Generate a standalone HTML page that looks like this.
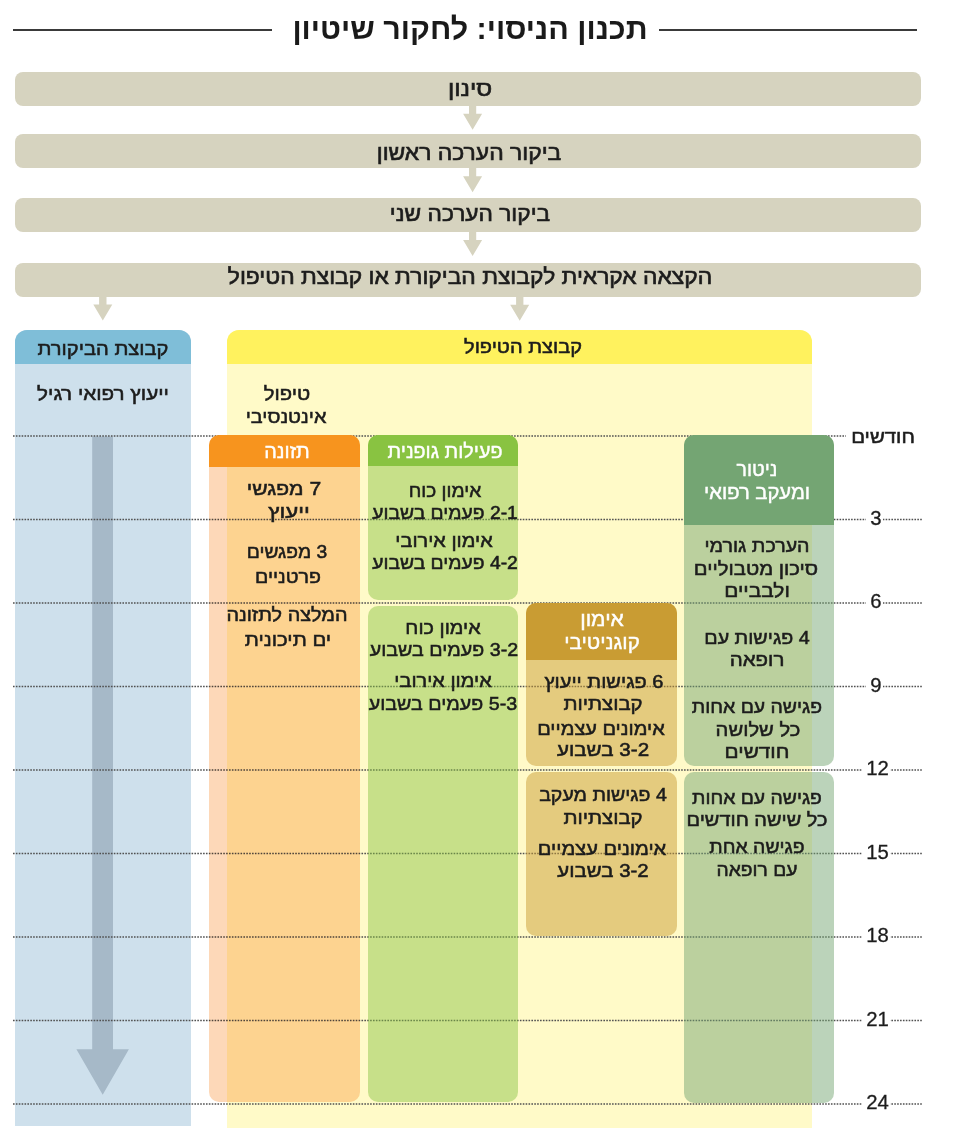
<!DOCTYPE html>
<html lang="he"><head><meta charset="utf-8"><title>תכנון הניסוי: לחקור שיטיון</title>
<style>
html,body{margin:0;padding:0;background:#fff;}
body{width:960px;height:1147px;position:relative;overflow:hidden;font-family:'Liberation Sans', 'DejaVu Sans', sans-serif;}
.ln{position:absolute;height:2px;background:#3a3a3a;}
.bar{position:absolute;left:15px;width:906px;height:34px;border-radius:8px;background:#d6d3bf;}
.col{position:absolute;border-radius:12px 12px 0 0;overflow:hidden;}
.colh{height:33.6px;}
.box{position:absolute;overflow:hidden;}
.ov{position:absolute;left:0;top:0;}
.t{position:absolute;white-space:nowrap;transform:translateX(-50%);direction:rtl;text-align:center;}
.mo{position:absolute;background:#fff;padding:0 1.5px 0 4px;font-size:20.3px;line-height:21px;height:21px;color:#1c1c1c;direction:ltr;-webkit-text-stroke:0.3px #1c1c1c;}
</style></head><body>
<div class="col" style="left:15px;top:330px;width:176px;height:796px;background:#cee0ec"><div class="colh" style="background:#7fbed8"></div></div><div class="col" style="left:227px;top:330px;width:584.8px;height:798px;background:#fffac8"><div class="colh" style="background:#fff25e"></div></div>
<svg class="ov" width="960" height="1147" viewBox="0 0 960 1147"><polygon points="92.2,436.5 113,436.5 113,1049.2 128.9,1049.2 102.7,1094.7 76.4,1049.2 92.2,1049.2" fill="#a6b9c8"/></svg>
<svg class="ov" width="960" height="1147" viewBox="0 0 960 1147"><g stroke="#505050" stroke-width="1.3" stroke-dasharray="1.6 1.28" fill="none"><line x1="13" y1="436" x2="846" y2="436" /><line x1="13" y1="519.5" x2="922" y2="519.5" /><line x1="13" y1="603" x2="922" y2="603" /><line x1="13" y1="686.5" x2="922" y2="686.5" /><line x1="13" y1="770" x2="922" y2="770" /><line x1="13" y1="853.5" x2="922" y2="853.5" /><line x1="13" y1="937" x2="922" y2="937" /><line x1="13" y1="1020.5" x2="922" y2="1020.5" /><line x1="13" y1="1104" x2="922" y2="1104" /></g></svg>
<div class="box" style="left:209.3px;top:434.7px;width:151.0px;height:667.3px;border-radius:10px;background:rgb(253,216,184);mix-blend-mode:multiply"></div><div class="box" style="left:209.3px;top:434.7px;width:151.0px;height:31.9px;border-radius:10px 10px 0 0;background:#f7941e"></div><div class="box" style="left:367.6px;top:434.7px;width:150.2px;height:165.3px;border-radius:10px;background:rgba(137,195,65,0.47)"></div><div class="box" style="left:367.6px;top:434.7px;width:150.2px;height:31.3px;border-radius:10px 10px 0 0;background:#89c341"></div><div class="box" style="left:367.6px;top:605.7px;width:150.2px;height:496.3px;border-radius:10px;background:rgba(137,195,65,0.47)"></div><div class="box" style="left:526.0px;top:602.6px;width:150.6px;height:163.6px;border-radius:10px;background:rgba(201,156,51,0.5)"></div><div class="box" style="left:526.0px;top:602.6px;width:150.6px;height:57.1px;border-radius:10px 10px 0 0;background:#c99c33"></div><div class="box" style="left:526.0px;top:772.2px;width:150.6px;height:163.4px;border-radius:10px;background:rgba(201,156,51,0.5)"></div><div class="box" style="left:684.0px;top:434.7px;width:150.0px;height:331.5px;border-radius:10px;background:rgba(116,165,115,0.49)"></div><div class="box" style="left:684.0px;top:434.7px;width:150.0px;height:90.6px;border-radius:10px 10px 0 0;background:#74a573"></div><div class="box" style="left:684.0px;top:772.2px;width:150.0px;height:331.1px;border-radius:10px;background:rgba(116,165,115,0.49)"></div>
<svg class="ov" width="960" height="1147" viewBox="0 0 960 1147"><polygon points="469.0,105.5 476.2,105.5 476.2,113.7 482.1,113.7 472.6,129.7 463.1,113.7 469.0,113.7" fill="#d6d3bf"/><polygon points="469.0,167.5 476.2,167.5 476.2,176.2 482.1,176.2 472.6,192.2 463.1,176.2 469.0,176.2" fill="#d6d3bf"/><polygon points="469.0,231.5 476.2,231.5 476.2,240.0 482.1,240.0 472.6,256.0 463.1,240.0 469.0,240.0" fill="#d6d3bf"/><polygon points="99.1,296.5 106.5,296.5 106.5,304.5 112.3,304.5 102.8,320.5 93.3,304.5 99.1,304.5" fill="#d6d3bf"/><polygon points="516.1,296.5 523.4,296.5 523.4,304.7 529.2,304.7 519.7,320.7 510.2,304.7 516.1,304.7" fill="#d6d3bf"/></svg>
<div class="ln" style="left:13px;top:29px;width:259px"></div><div class="ln" style="left:659px;top:29px;width:258px"></div><div class="t" style="left:470.0px;top:12.5px;font-size:30.5px;line-height:30.5px;font-weight:700;color:#1a1a1a;">תכנון הניסוי: לחקור שיטיון</div><div class="bar" style="top:72px"></div><div class="t" style="left:469.8px;top:79.3px;font-size:21.5px;line-height:21.5px;font-weight:400;color:#1c1c1c;transform:translateX(-50%) scaleX(1.1276);-webkit-text-stroke:0.65px #1c1c1c;">סינון</div><div class="bar" style="top:134px"></div><div class="t" style="left:469.4px;top:142.6px;font-size:21.5px;line-height:21.5px;font-weight:400;color:#1c1c1c;transform:translateX(-50%) scaleX(1.0642);-webkit-text-stroke:0.65px #1c1c1c;">ביקור הערכה ראשון</div><div class="bar" style="top:198.2px"></div><div class="t" style="left:470.1px;top:204.3px;font-size:21.5px;line-height:21.5px;font-weight:400;color:#1c1c1c;transform:translateX(-50%) scaleX(1.0568);-webkit-text-stroke:0.65px #1c1c1c;">ביקור הערכה שני</div><div class="bar" style="top:263px"></div><div class="t" style="left:470.1px;top:266.8px;font-size:21.5px;line-height:21.5px;font-weight:400;color:#1c1c1c;transform:translateX(-50%) scaleX(1.0613);-webkit-text-stroke:0.65px #1c1c1c;">הקצאה אקראית לקבוצת הביקורת או קבוצת הטיפול</div>
<div class="t" style="left:102.8px;top:340.0px;font-size:18.8px;line-height:18.8px;font-weight:400;color:#1c1c1c;transform:translateX(-50%) scaleX(1.0731);-webkit-text-stroke:0.55px #1c1c1c;">קבוצת הביקורת</div><div class="t" style="left:522.7px;top:338.2px;font-size:18.8px;line-height:18.8px;font-weight:400;color:#1c1c1c;transform:translateX(-50%) scaleX(1.0664);-webkit-text-stroke:0.55px #1c1c1c;">קבוצת הטיפול</div><div class="t" style="left:102.8px;top:384.9px;font-size:18.8px;line-height:18.8px;font-weight:400;color:#1c1c1c;transform:translateX(-50%) scaleX(1.1004);-webkit-text-stroke:0.55px #1c1c1c;">ייעוץ רפואי רגיל</div><div class="t" style="left:287.4px;top:384.9px;font-size:18.8px;line-height:18.8px;font-weight:400;color:#1c1c1c;transform:translateX(-50%) scaleX(1.0789);-webkit-text-stroke:0.55px #1c1c1c;">טיפול</div><div class="t" style="left:286.0px;top:407.7px;font-size:18.8px;line-height:18.8px;font-weight:400;color:#1c1c1c;transform:translateX(-50%) scaleX(1.0553);-webkit-text-stroke:0.55px #1c1c1c;">אינטנסיבי</div><div class="t" style="left:287.3px;top:442.3px;font-size:19.5px;line-height:19.5px;font-weight:400;color:#ffffff;transform:translateX(-50%) scaleX(1.0152);-webkit-text-stroke:0.45px #ffffff;">תזונה</div><div class="t" style="left:445.4px;top:442.4px;font-size:19.5px;line-height:19.5px;font-weight:400;color:#ffffff;transform:translateX(-50%) scaleX(1.0127);-webkit-text-stroke:0.45px #ffffff;">פעילות גופנית</div><div class="t" style="left:602.4px;top:610.0px;font-size:19.5px;line-height:19.5px;font-weight:400;color:#ffffff;transform:translateX(-50%) scaleX(1.08);-webkit-text-stroke:0.45px #ffffff;">אימון</div><div class="t" style="left:602.2px;top:632.7px;font-size:19.5px;line-height:19.5px;font-weight:400;color:#ffffff;transform:translateX(-50%) scaleX(1.0551);-webkit-text-stroke:0.45px #ffffff;">קוגניטיבי</div><div class="t" style="left:757.3px;top:459.5px;font-size:19.5px;line-height:19.5px;font-weight:400;color:#ffffff;transform:translateX(-50%) scaleX(1.0001);-webkit-text-stroke:0.45px #ffffff;">ניטור</div><div class="t" style="left:757.3px;top:482.7px;font-size:19.5px;line-height:19.5px;font-weight:400;color:#ffffff;transform:translateX(-50%) scaleX(1.0368);-webkit-text-stroke:0.45px #ffffff;">ומעקב רפואי</div><div class="t" style="left:284.2px;top:479.5px;font-size:18.8px;line-height:18.8px;font-weight:400;color:#1c1c1c;transform:translateX(-50%) scaleX(1.1253);-webkit-text-stroke:0.55px #1c1c1c;">7 מפגשי</div><div class="t" style="left:289.1px;top:502.9px;font-size:18.8px;line-height:18.8px;font-weight:400;color:#1c1c1c;transform:translateX(-50%) scaleX(1.1865);-webkit-text-stroke:0.55px #1c1c1c;">ייעוץ</div><div class="t" style="left:287.1px;top:542.7px;font-size:18.8px;line-height:18.8px;font-weight:400;color:#1c1c1c;transform:translateX(-50%) scaleX(1.0241);-webkit-text-stroke:0.55px #1c1c1c;">3 מפגשים</div><div class="t" style="left:287.5px;top:567.7px;font-size:18.8px;line-height:18.8px;font-weight:400;color:#1c1c1c;transform:translateX(-50%) scaleX(1.0437);-webkit-text-stroke:0.55px #1c1c1c;">פרטניים</div><div class="t" style="left:287.0px;top:605.7px;font-size:18.8px;line-height:18.8px;font-weight:400;color:#1c1c1c;transform:translateX(-50%) scaleX(1.0571);-webkit-text-stroke:0.55px #1c1c1c;">המלצה לתזונה</div><div class="t" style="left:288.3px;top:631.3px;font-size:18.8px;line-height:18.8px;font-weight:400;color:#1c1c1c;transform:translateX(-50%) scaleX(1.0859);-webkit-text-stroke:0.55px #1c1c1c;">ים תיכונית</div><div class="t" style="left:444.6px;top:481.5px;font-size:18.8px;line-height:18.8px;font-weight:400;color:#1c1c1c;transform:translateX(-50%) scaleX(1.0161);-webkit-text-stroke:0.55px #1c1c1c;">אימון כוח</div><div class="t" style="left:445.4px;top:503.7px;font-size:18.8px;line-height:18.8px;font-weight:400;color:#1c1c1c;transform:translateX(-50%) scaleX(1.0274);-webkit-text-stroke:0.55px #1c1c1c;">1‐2 פעמים בשבוע</div><div class="t" style="left:443.8px;top:531.5px;font-size:18.8px;line-height:18.8px;font-weight:400;color:#1c1c1c;transform:translateX(-50%) scaleX(1.059);-webkit-text-stroke:0.55px #1c1c1c;">אימון אירובי</div><div class="t" style="left:445.4px;top:553.7px;font-size:18.8px;line-height:18.8px;font-weight:400;color:#1c1c1c;transform:translateX(-50%) scaleX(1.0274);-webkit-text-stroke:0.55px #1c1c1c;">2‐4 פעמים בשבוע</div><div class="t" style="left:443.1px;top:618.5px;font-size:18.8px;line-height:18.8px;font-weight:400;color:#1c1c1c;transform:translateX(-50%) scaleX(1.0559);-webkit-text-stroke:0.55px #1c1c1c;">אימון כוח</div><div class="t" style="left:443.6px;top:640.7px;font-size:18.8px;line-height:18.8px;font-weight:400;color:#1c1c1c;transform:translateX(-50%) scaleX(1.0472);-webkit-text-stroke:0.55px #1c1c1c;">2‐3 פעמים בשבוע</div><div class="t" style="left:442.5px;top:672.4px;font-size:18.8px;line-height:18.8px;font-weight:400;color:#1c1c1c;transform:translateX(-50%) scaleX(1.0589);-webkit-text-stroke:0.55px #1c1c1c;">אימון אירובי</div><div class="t" style="left:442.8px;top:694.9px;font-size:18.8px;line-height:18.8px;font-weight:400;color:#1c1c1c;transform:translateX(-50%) scaleX(1.0473);-webkit-text-stroke:0.55px #1c1c1c;">3‐5 פעמים בשבוע</div><div class="t" style="left:603.7px;top:673.2px;font-size:18.8px;line-height:18.8px;font-weight:400;color:#1c1c1c;transform:translateX(-50%) scaleX(1.0644);-webkit-text-stroke:0.55px #1c1c1c;">6 פגישות ייעוץ</div><div class="t" style="left:602.5px;top:695.4px;font-size:18.8px;line-height:18.8px;font-weight:400;color:#1c1c1c;transform:translateX(-50%) scaleX(1.0832);-webkit-text-stroke:0.55px #1c1c1c;">קבוצתיות</div><div class="t" style="left:601.3px;top:719.5px;font-size:18.8px;line-height:18.8px;font-weight:400;color:#1c1c1c;transform:translateX(-50%) scaleX(1.0634);-webkit-text-stroke:0.55px #1c1c1c;">אימונים עצמיים</div><div class="t" style="left:603.3px;top:740.5px;font-size:18.8px;line-height:18.8px;font-weight:400;color:#1c1c1c;transform:translateX(-50%) scaleX(1.0978);-webkit-text-stroke:0.55px #1c1c1c;">2‐3 בשבוע</div><div class="t" style="left:603.0px;top:785.9px;font-size:18.8px;line-height:18.8px;font-weight:400;color:#1c1c1c;transform:translateX(-50%) scaleX(1.0402);-webkit-text-stroke:0.55px #1c1c1c;">4 פגישות מעקב</div><div class="t" style="left:602.5px;top:808.9px;font-size:18.8px;line-height:18.8px;font-weight:400;color:#1c1c1c;transform:translateX(-50%) scaleX(1.0832);-webkit-text-stroke:0.55px #1c1c1c;">קבוצתיות</div><div class="t" style="left:601.7px;top:840.0px;font-size:18.8px;line-height:18.8px;font-weight:400;color:#1c1c1c;transform:translateX(-50%) scaleX(1.0704);-webkit-text-stroke:0.55px #1c1c1c;">אימונים עצמיים</div><div class="t" style="left:603.3px;top:861.9px;font-size:18.8px;line-height:18.8px;font-weight:400;color:#1c1c1c;transform:translateX(-50%) scaleX(1.0881);-webkit-text-stroke:0.55px #1c1c1c;">2‐3 בשבוע</div><div class="t" style="left:756.9px;top:536.9px;font-size:18.8px;line-height:18.8px;font-weight:400;color:#1c1c1c;transform:translateX(-50%) scaleX(1.0461);-webkit-text-stroke:0.55px #1c1c1c;">הערכת גורמי</div><div class="t" style="left:756.2px;top:559.5px;font-size:18.8px;line-height:18.8px;font-weight:400;color:#1c1c1c;transform:translateX(-50%) scaleX(1.0817);-webkit-text-stroke:0.55px #1c1c1c;">סיכון מטבוליים</div><div class="t" style="left:756.6px;top:581.7px;font-size:18.8px;line-height:18.8px;font-weight:400;color:#1c1c1c;transform:translateX(-50%) scaleX(1.1134);-webkit-text-stroke:0.55px #1c1c1c;">ולבביים</div><div class="t" style="left:756.9px;top:628.7px;font-size:18.8px;line-height:18.8px;font-weight:400;color:#1c1c1c;transform:translateX(-50%) scaleX(1.0501);-webkit-text-stroke:0.55px #1c1c1c;">4 פגישות עם</div><div class="t" style="left:757.4px;top:650.9px;font-size:18.8px;line-height:18.8px;font-weight:400;color:#1c1c1c;transform:translateX(-50%) scaleX(1.0921);-webkit-text-stroke:0.55px #1c1c1c;">רופאה</div><div class="t" style="left:757.4px;top:698.2px;font-size:18.8px;line-height:18.8px;font-weight:400;color:#1c1c1c;transform:translateX(-50%) scaleX(1.0338);-webkit-text-stroke:0.55px #1c1c1c;">פגישה עם אחות</div><div class="t" style="left:757.9px;top:721.3px;font-size:18.8px;line-height:18.8px;font-weight:400;color:#1c1c1c;transform:translateX(-50%) scaleX(1.076);-webkit-text-stroke:0.55px #1c1c1c;">כל שלושה</div><div class="t" style="left:757.3px;top:743.4px;font-size:18.8px;line-height:18.8px;font-weight:400;color:#1c1c1c;transform:translateX(-50%) scaleX(1.1068);-webkit-text-stroke:0.55px #1c1c1c;">חודשים</div><div class="t" style="left:756.7px;top:788.9px;font-size:18.8px;line-height:18.8px;font-weight:400;color:#1c1c1c;transform:translateX(-50%) scaleX(1.0307);-webkit-text-stroke:0.55px #1c1c1c;">פגישה עם אחות</div><div class="t" style="left:756.7px;top:810.5px;font-size:18.8px;line-height:18.8px;font-weight:400;color:#1c1c1c;transform:translateX(-50%) scaleX(1.0622);-webkit-text-stroke:0.55px #1c1c1c;">כל שישה חודשים</div><div class="t" style="left:757.1px;top:838.1px;font-size:18.8px;line-height:18.8px;font-weight:400;color:#1c1c1c;transform:translateX(-50%) scaleX(1.0327);-webkit-text-stroke:0.55px #1c1c1c;">פגישה אחת</div><div class="t" style="left:757.4px;top:860.9px;font-size:18.8px;line-height:18.8px;font-weight:400;color:#1c1c1c;transform:translateX(-50%) scaleX(1.0242);-webkit-text-stroke:0.55px #1c1c1c;">עם רופאה</div><div class="t" style="left:882.6px;top:427.6px;font-size:18.8px;line-height:18.8px;font-weight:400;color:#1c1c1c;transform:translateX(-50%) scaleX(1.0856);-webkit-text-stroke:0.55px #1c1c1c;">חודשים</div>
<div class="mo" style="left:866.2px;top:507.5px">3</div><div class="mo" style="left:866.2px;top:591.0px">6</div><div class="mo" style="left:866.2px;top:674.5px">9</div><div class="mo" style="left:862.3px;top:758.0px">12</div><div class="mo" style="left:862.3px;top:841.5px">15</div><div class="mo" style="left:862.3px;top:925.0px">18</div><div class="mo" style="left:862.3px;top:1008.5px">21</div><div class="mo" style="left:862.3px;top:1092.0px">24</div>
</body></html>
